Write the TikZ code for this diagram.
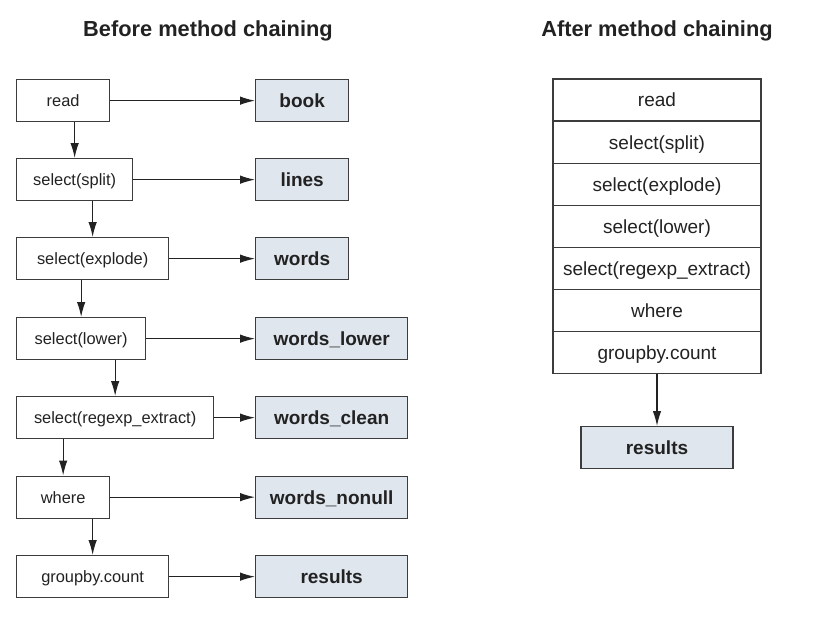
\documentclass[tikz,border=0pt]{standalone}
\usepackage{fontspec}
\setmainfont{Liberation Sans}
\usetikzlibrary{arrows.meta,positioning}
\definecolor{custcol_3c_3c_3c}{RGB}{60, 60, 60}
\definecolor{custcol_df_e6_ee}{RGB}{223, 230, 238}
\definecolor{custcol_22_22_22}{RGB}{34, 34, 34}
\tikzset{
	opbox/.style={draw=custcol_3c_3c_3c, line width=1.3pt, fill=white, inner sep=0, anchor=north west,
		minimum height=42pt, text depth=0pt, text=custcol_22_22_22,
		font=\fontsize{16.4pt}{16.4pt}\selectfont},
	dfbox/.style={draw=custcol_3c_3c_3c, line width=1.3pt, fill=custcol_df_e6_ee, inner sep=0, anchor=north west,
		minimum height=42pt, text depth=0pt, text=custcol_22_22_22,
		font=\fontsize{19pt}{19pt}\bfseries\selectfont},
	stackbox/.style={draw=custcol_3c_3c_3c, line width=1.3pt, fill=white, inner sep=0, outer sep=0,
		minimum width=208pt, minimum height=42.1pt, text depth=0pt, text=custcol_22_22_22,
		font=\fontsize{19pt}{19pt}\selectfont},
	flow/.style={draw=custcol_22_22_22, line width=1.2pt, -{Latex[length=15pt,width=8.5pt]}},
	heading/.style={inner sep=0, anchor=base, text=custcol_22_22_22, font=\fontsize{21.8pt}{21.8pt}\bfseries\selectfont}
}
\begin{document}
\begin{tikzpicture}[x=1pt,y=-1pt]
	\useasboundingbox (0,0) rectangle (826,625);
	% titles
	\node[heading] (tbefore) at (208,36) {Before method chaining};
	\node[heading] (tafter) at (657,36) {After method chaining};
	% before: one step per line
	\node[opbox, minimum width=93pt] (read) at (16,79) {read};
	\node[opbox, minimum width=116pt] (split) at (16,158) {select(split)};
	\node[opbox, minimum width=152pt] (explode) at (16,237) {select(explode)};
	\node[opbox, minimum width=129pt] (lower) at (16,317) {select(lower)};
	\node[opbox, minimum width=197pt] (regexp) at (16,396) {select(regexp\_extract)};
	\node[opbox, minimum width=93pt] (where) at (16,475.5) {where};
	\node[opbox, minimum width=152pt] (groupby) at (16,555) {groupby.count};
	\node[dfbox, minimum width=93pt] (book) at (255,79) {book};
	\node[dfbox, minimum width=93pt] (lines) at (255,158) {lines};
	\node[dfbox, minimum width=93pt] (words) at (255,237) {words};
	\node[dfbox, minimum width=152pt] (wlower) at (255,317) {words\_lower};
	\node[dfbox, minimum width=152pt] (wclean) at (255,396) {words\_clean};
	\node[dfbox, minimum width=152pt] (wnonull) at (255,475.5) {words\_nonull};
	\node[dfbox, minimum width=152pt] (results) at (255,555) {results};
	\draw[flow] (read) -- (book);
	\draw[flow] (split) -- (lines);
	\draw[flow] (explode) -- (words);
	\draw[flow] (lower) -- (wlower);
	\draw[flow] (regexp) -- (wclean);
	\draw[flow] (where) -- (wnonull);
	\draw[flow] (groupby) -- (results);
	\draw[flow] (read.south -| split.north) -- (split.north);
	\draw[flow] (split.south -| explode.north) -- (explode.north);
	\draw[flow] (explode.south -| lower.north) -- (lower.north);
	\draw[flow] (lower.south -| regexp.north) -- (regexp.north);
	\draw[flow] (regexp.south -| where.north) -- (where.north);
	\draw[flow] (where.south -| groupby.north) -- (groupby.north);
	% after: chained steps
	\node[stackbox, anchor=north] (cread) at (657,79) {read};
	\node[stackbox, below=0pt of cread] (csplit) {select(split)};
	\node[stackbox, below=0pt of csplit] (cexplode) {select(explode)};
	\node[stackbox, below=0pt of cexplode] (clower) {select(lower)};
	\node[stackbox, below=0pt of clower] (cregexp) {select(regexp\_extract)};
	\node[stackbox, below=0pt of cregexp] (cwhere) {where};
	\node[stackbox, below=0pt of cwhere] (cgroupby) {groupby.count};
	\node[dfbox, anchor=north, minimum width=152pt] (cresults) at (657,426) {results};
	\draw[flow] (cgroupby) -- (cresults);
\end{tikzpicture}
\end{document}
